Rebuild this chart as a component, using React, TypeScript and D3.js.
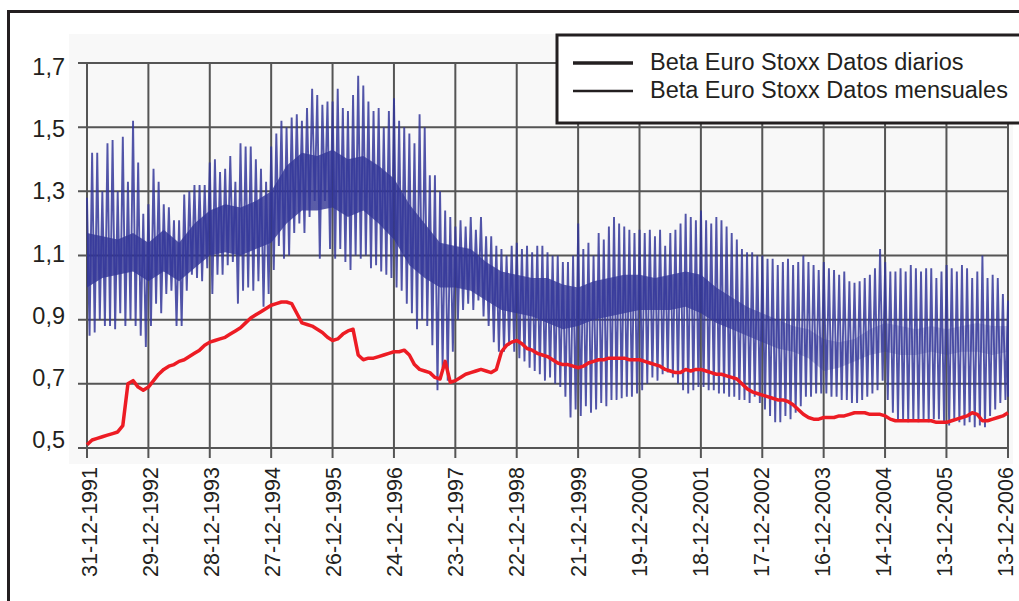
import React, { useEffect, useRef } from "react";
import * as d3 from "d3";

// fechas del eje X (tal como aparecen)
const tickLabels = [
  "31-12-1991", "29-12-1992", "28-12-1993", "27-12-1994", "26-12-1995", "24-12-1996",
  "23-12-1997", "22-12-1998", "21-12-1999", "19-12-2000", "18-12-2001", "17-12-2002",
  "16-12-2003", "14-12-2004", "13-12-2005", "13-12-2006",
];
const yTicks = [0.5, 0.7, 0.9, 1.1, 1.3, 1.5, 1.7];
const legendLabels = ["Beta Euro Stoxx Datos diarios", "Beta Euro Stoxx Datos mensuales"];

// beta mensual (roja), un valor por mes desde 12-1991
const monthlyBeta = [
  0.51, 0.525, 0.53, 0.535, 0.54, 0.545, 0.55, 0.57, 0.70, 0.71, 0.69, 0.68,
  0.69, 0.71, 0.73, 0.745, 0.755, 0.76, 0.77, 0.775, 0.785, 0.795, 0.805, 0.82,
  0.83, 0.835, 0.84, 0.845, 0.855, 0.865, 0.875, 0.89, 0.905, 0.915, 0.925, 0.935,
  0.945, 0.95, 0.955, 0.955, 0.95, 0.92, 0.89, 0.885, 0.88, 0.87, 0.86, 0.845,
  0.835, 0.84, 0.855, 0.865, 0.87, 0.79, 0.775, 0.78, 0.78, 0.785, 0.79, 0.795,
  0.80, 0.80, 0.805, 0.79, 0.76, 0.745, 0.74, 0.735, 0.72, 0.715, 0.77, 0.705,
  0.71, 0.72, 0.73, 0.735, 0.74, 0.745, 0.74, 0.735, 0.745, 0.80, 0.82, 0.83,
  0.835, 0.825, 0.81, 0.805, 0.795, 0.79, 0.785, 0.775, 0.765, 0.76, 0.76, 0.755,
  0.75, 0.755, 0.765, 0.77, 0.775, 0.775, 0.78, 0.78, 0.78, 0.78, 0.775, 0.775,
  0.775, 0.77, 0.765, 0.76, 0.755, 0.745, 0.74, 0.735, 0.735, 0.745, 0.74, 0.745,
  0.745, 0.74, 0.735, 0.73, 0.73, 0.725, 0.72, 0.715, 0.70, 0.685, 0.675, 0.67,
  0.665, 0.66, 0.655, 0.65, 0.65, 0.645, 0.635, 0.62, 0.605, 0.595, 0.59, 0.59,
  0.595, 0.595, 0.595, 0.60, 0.60, 0.605, 0.61, 0.61, 0.61, 0.605, 0.605, 0.605,
  0.60, 0.59, 0.585, 0.585, 0.585, 0.585, 0.585, 0.585, 0.585, 0.585, 0.58, 0.58,
  0.58, 0.585, 0.59, 0.595, 0.60, 0.61, 0.605, 0.585, 0.585, 0.59, 0.595, 0.60,
  0.61,
];

// beta diaria: máximos y mínimos de los picos, por mes
const dailyHigh = [
  1.28, 1.42, 1.42, 1.30, 1.45, 1.46, 1.30, 1.47, 1.33, 1.52, 1.39, 1.23,
  1.26, 1.37, 1.33, 1.26, 1.25, 1.21, 1.21, 1.29, 1.30, 1.32, 1.32, 1.32,
  1.39, 1.40, 1.36, 1.37, 1.41, 1.33, 1.45, 1.44, 1.44, 1.40, 1.37, 1.33,
  1.44, 1.48, 1.52, 1.50, 1.53, 1.54, 1.52, 1.56, 1.62, 1.60, 1.57, 1.58,
  1.58, 1.62, 1.56, 1.55, 1.60, 1.66, 1.63, 1.58, 1.55, 1.56, 1.50, 1.55,
  1.59, 1.52, 1.50, 1.48, 1.45, 1.54, 1.50, 1.35, 1.35, 1.30, 1.24, 1.22,
  1.19, 1.21, 1.19, 1.22, 1.18, 1.22, 1.16, 1.16, 1.13, 1.12, 1.10, 1.13,
  1.14, 1.12, 1.13, 1.11, 1.13, 1.13, 1.11, 1.10, 1.10, 1.08, 1.08, 1.10,
  1.20, 1.12, 1.14, 1.10, 1.17, 1.15, 1.19, 1.22, 1.20, 1.19, 1.18, 1.17,
  1.18, 1.17, 1.18, 1.16, 1.18, 1.13, 1.17, 1.18, 1.20, 1.23, 1.22, 1.21,
  1.24, 1.21, 1.20, 1.22, 1.21, 1.19, 1.17, 1.15, 1.12, 1.11, 1.11, 1.10,
  1.10, 1.09, 1.09, 1.07, 1.08, 1.09, 1.07, 1.08, 1.10, 1.08, 1.07, 1.055,
  1.08, 1.06, 1.055, 1.04, 1.05, 1.02, 1.015, 1.02, 1.03, 1.04, 1.06, 1.12,
  1.08, 1.05, 1.05, 1.06, 1.05, 1.07, 1.06, 1.05, 1.06, 1.06, 1.03, 1.05,
  1.07, 1.06, 1.05, 1.07, 1.06, 1.03, 1.05, 1.10, 1.03, 1.04, 1.03, 0.98,
  0.96,
];
const dailyLow = [
  0.85, 0.86, 0.90, 0.88, 0.88, 0.87, 0.92, 0.88, 0.90, 0.88, 0.85, 0.815,
  0.88, 0.95, 0.92, 0.98, 0.99, 0.88, 0.88, 0.99, 1.04, 1.03, 1.02, 1.06,
  0.98, 1.04, 1.04, 1.07, 1.08, 0.95, 0.99, 1.00, 0.99, 1.02, 0.94, 0.98,
  1.055, 1.13, 1.09, 1.10, 1.17, 1.20, 1.17, 1.22, 1.27, 1.09, 1.27, 1.12,
  1.09, 1.12, 1.08, 1.055, 1.10, 1.09, 1.10, 1.06, 1.07, 1.05, 1.04, 1.03,
  1.00, 0.99, 0.95, 0.92, 0.87, 0.90, 0.88, 0.82, 0.68, 0.75, 0.71, 0.80,
  0.90, 0.93, 0.95, 0.93, 0.96, 0.91, 0.88, 0.83, 0.80, 0.80, 0.82, 0.80,
  0.78, 0.77, 0.75, 0.74, 0.73, 0.71, 0.72, 0.70, 0.69, 0.66, 0.595, 0.62,
  0.60, 0.63, 0.61, 0.62, 0.64, 0.63, 0.65, 0.65, 0.655, 0.66, 0.66, 0.67,
  0.68, 0.70, 0.72, 0.71, 0.73, 0.735, 0.72, 0.70, 0.68, 0.67, 0.68, 0.69,
  0.69, 0.68, 0.68, 0.67, 0.67, 0.66, 0.66, 0.65, 0.65, 0.64, 0.66, 0.64,
  0.62, 0.60, 0.58, 0.58, 0.60, 0.59, 0.61, 0.63, 0.66, 0.66, 0.67, 0.67,
  0.67, 0.66, 0.66, 0.65, 0.65, 0.64, 0.64, 0.65, 0.66, 0.67, 0.68, 0.71,
  0.65, 0.61, 0.59, 0.59, 0.58, 0.585, 0.58, 0.59, 0.58, 0.59, 0.59, 0.58,
  0.57, 0.59, 0.58, 0.57, 0.58, 0.565, 0.57, 0.565, 0.60, 0.62, 0.64, 0.65,
  0.66,
];

// banda densa de la serie diaria, por trimestre
const coreTop = [
  1.17, 1.16, 1.15, 1.17, 1.14, 1.18, 1.14, 1.20, 1.24, 1.26, 1.25, 1.27,
  1.30, 1.38, 1.42, 1.41, 1.43, 1.40, 1.41, 1.38, 1.34, 1.26, 1.20, 1.14,
  1.13, 1.12, 1.08, 1.05, 1.04, 1.03, 1.03, 1.01, 1.00, 1.02, 1.03, 1.04,
  1.04, 1.03, 1.04, 1.05, 1.04, 1.00, 0.97, 0.94, 0.92, 0.90, 0.88, 0.87,
  0.84, 0.83, 0.84, 0.87, 0.89, 0.88, 0.87, 0.88, 0.87, 0.88, 0.89, 0.88,
  0.88,
];
const coreBottom = [
  1.00, 1.03, 1.04, 1.05, 1.02, 1.05, 1.02, 1.06, 1.10, 1.11, 1.10, 1.12,
  1.14, 1.20, 1.24, 1.24, 1.25, 1.22, 1.24, 1.20, 1.15, 1.07, 1.03, 1.00,
  1.00, 0.99, 0.96, 0.93, 0.92, 0.91, 0.89, 0.87, 0.88, 0.90, 0.91, 0.92,
  0.93, 0.93, 0.93, 0.94, 0.92, 0.89, 0.87, 0.85, 0.83, 0.81, 0.80, 0.78,
  0.74, 0.75, 0.77, 0.79, 0.80, 0.79, 0.79, 0.80, 0.79, 0.80, 0.80, 0.79,
  0.80,
];

const INK = "#231f20";
const FONT = "'Liberation Sans', Arial, sans-serif";

export default function App() {
  const ref = useRef<SVGSVGElement>(null);

  useEffect(() => {
    const svg = d3.select(ref.current);
    svg.selectAll("*").remove();

    const parse = d3.timeParse("%d-%m-%Y");
    const tickDates = tickLabels.map((s) => parse(s) as Date);
    const t0 = tickDates[0].getTime();
    const t1 = tickDates[tickDates.length - 1].getTime();
    const atMonth = (m: number) => new Date(t0 + ((t1 - t0) * Math.min(m, 180)) / 180);
    const atQuarter = (q: number) => new Date(t0 + ((t1 - t0) * q) / 60);

    const x = d3.scaleTime().domain([tickDates[0], tickDates[15]]).range([87, 1008]);
    const y = d3.scaleLinear().domain([0.5, 1.7]).range([448, 63]);
    // posiciones de las etiquetas (algo desplazadas respecto a la rejilla)
    const yLab = d3.scaleLinear().domain([0.5, 1.7]).range([440, 66.5]);
    const xLab = d3.scaleLinear().domain([0, 15]).range([89.5, 1005]);

    const defs = svg.append("defs");
    defs.append("clipPath").attr("id", "plotClip")
      .append("rect").attr("x", 84).attr("y", 40).attr("width", 926).attr("height", 420);
    const grad = defs.append("linearGradient").attr("id", "coreFade")
      .attr("gradientUnits", "userSpaceOnUse")
      .attr("x1", 87).attr("x2", 1008).attr("y1", 0).attr("y2", 0);
    grad.append("stop").attr("offset", "0%").attr("stop-color", "#2e3192").attr("stop-opacity", 0.8);
    grad.append("stop").attr("offset", "68%").attr("stop-color", "#2e3192").attr("stop-opacity", 0.75);
    grad.append("stop").attr("offset", "78%").attr("stop-color", "#2e3192").attr("stop-opacity", 0.3);
    grad.append("stop").attr("offset", "100%").attr("stop-color", "#2e3192").attr("stop-opacity", 0.25);

    // marco exterior
    svg.append("rect")
      .attr("x", 8.5).attr("y", 11.5)
      .attr("width", 1030).attr("height", 620)
      .attr("fill", "#fff").attr("stroke", INK).attr("stroke-width", 3);

    // fondo del área de trazado
    svg.append("rect")
      .attr("x", 69).attr("y", 34)
      .attr("width", 944).attr("height", 430)
      .attr("fill", "#f8f8f8");

    // rejilla
    svg.append("g")
      .selectAll("line")
      .data(yTicks)
      .join("line")
      .attr("x1", 78).attr("x2", 1009)
      .attr("y1", (d) => y(d)).attr("y2", (d) => y(d))
      .attr("stroke", "#555").attr("stroke-width", 2);

    svg.append("g")
      .selectAll("line")
      .data(tickDates)
      .join("line")
      .attr("x1", (d) => x(d)).attr("x2", (d) => x(d))
      .attr("y1", y(1.7)).attr("y2", 458)
      .attr("stroke", "#555").attr("stroke-width", 2);

    const plot = svg.append("g").attr("clip-path", "url(#plotClip)");

    // banda densa
    const area = d3.area<number>()
      .x((_, i) => x(atQuarter(i)))
      .y0((_, i) => y(coreBottom[i]))
      .y1((d) => y(d))
      .curve(d3.curveLinear);
    plot.append("path")
      .attr("d", area(coreTop))
      .attr("fill", "url(#coreFade)");

    // picos diarios
    const zig: [Date, number][] = [];
    dailyHigh.forEach((h, m) => {
      zig.push([atMonth(m), h]);
      zig.push([atMonth(m + 0.5), dailyLow[m]]);
    });
    const line = d3.line<[Date, number]>()
      .x((d) => x(d[0]))
      .y((d) => y(d[1]));
    plot.append("path")
      .attr("d", line(zig))
      .attr("fill", "none")
      .attr("stroke", "#34379a")
      .attr("stroke-opacity", 0.85)
      .attr("stroke-width", 1.9)
      .attr("stroke-linejoin", "miter");

    // beta mensual
    const redLine = d3.line<number>()
      .x((_, i) => x(atMonth(i)))
      .y((d) => y(d));
    plot.append("path")
      .attr("d", redLine(monthlyBeta))
      .attr("fill", "none")
      .attr("stroke", "#ed1c24")
      .attr("stroke-width", 3.5)
      .attr("stroke-linejoin", "round");

    // etiquetas eje Y
    svg.append("g")
      .selectAll("text")
      .data(yTicks)
      .join("text")
      .attr("x", 65)
      .attr("y", (d) => yLab(d))
      .attr("dy", "0.36em")
      .attr("text-anchor", "end")
      .attr("font-family", FONT)
      .attr("font-size", 23.5)
      .attr("fill", INK)
      .text((d) => d3.format(".1f")(d).replace(".", ","));

    // etiquetas eje X
    svg.append("g")
      .selectAll("text")
      .data(tickLabels)
      .join("text")
      .attr("transform", (_, i) => `translate(${xLab(i)},467) rotate(-90)`)
      .attr("dy", "0.36em")
      .attr("text-anchor", "end")
      .attr("font-family", FONT)
      .attr("font-size", 21.5)
      .attr("fill", INK)
      .text((d) => d);

    // leyenda
    const leg = svg.append("g");
    leg.append("rect")
      .attr("x", 557).attr("y", 35)
      .attr("width", 480).attr("height", 88)
      .attr("fill", "#fff").attr("stroke", INK).attr("stroke-width", 3);
    legendLabels.forEach((label, i) => {
      const ly = 63 + i * 28;
      leg.append("line")
        .attr("x1", 573).attr("x2", 633)
        .attr("y1", ly).attr("y2", ly)
        .attr("stroke", INK).attr("stroke-width", i === 0 ? 3.5 : 2.5);
      leg.append("text")
        .attr("x", 650).attr("y", ly + 6.5)
        .attr("font-family", FONT)
        .attr("font-size", 23.5)
        .attr("fill", INK)
        .text(label);
    });
  }, []);

  return (
    <svg
      ref={ref}
      width={1019}
      height={601}
      style={{ position: "absolute", left: 0, top: 0, background: "#fff" }}
    />
  );
}
